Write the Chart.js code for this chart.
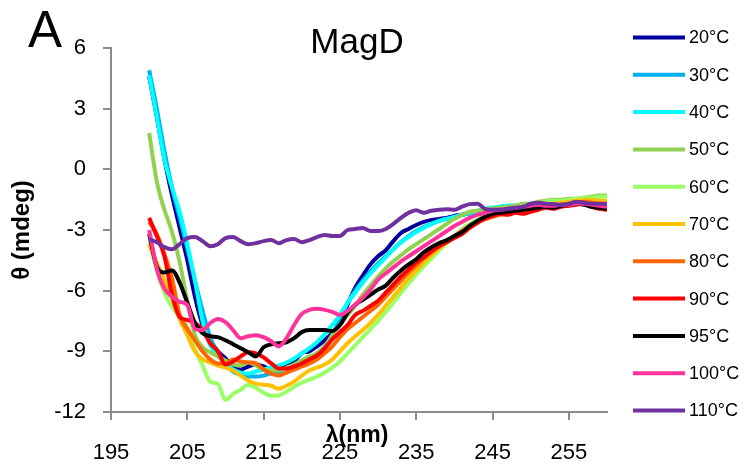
<!DOCTYPE html>
<html>
<head>
<meta charset="utf-8">
<script src="https://cdn.jsdelivr.net/npm/chart.js@4.4.1/dist/chart.umd.min.js"></script>
<style>
  html, body { margin: 0; padding: 0; background: #fff; }
  #wrap { width: 751px; height: 471px; }
</style>
</head>
<body>
<div id="wrap"><canvas id="cdChart" width="751" height="471"></canvas></div>
<script>
/* CD spectra of MagD at different temperatures */
const wavelengths = [
	200, 201, 202, 203, 204, 205, 206, 207, 208, 209,
	210, 211, 212, 213, 214, 215, 216, 217, 218, 219,
	220, 221, 222, 223, 224, 225, 226, 227, 228, 229,
	230, 231, 232, 233, 234, 235, 236, 237, 238, 239,
	240, 241, 242, 243, 244, 245, 246, 247, 248, 249,
	250, 251, 252, 253, 254, 255, 256, 257, 258, 259, 260
];
const temps = ['20°C', '30°C', '40°C', '50°C', '60°C', '70°C', '80°C', '90°C', '95°C', '100°C', '110°C'];
const colors = ['#00009c', '#00b0f0', '#00ffff', '#92d050', '#99ff66', '#ffc000', '#ff6600', '#ff0000', '#000000', '#ff3399', '#7030a0'];

const t20 = [
	4.6, 2.6, 0.5, -1.3, -2.9, -4.5, -6.3, -7.7, -8.45, -9.0,
	-9.35, -9.8, -9.9, -9.75, -9.65, -9.75, -9.9, -9.85, -9.7, -9.5,
	-9.1, -9.0, -8.75, -8.45, -8.1, -7.6, -6.7, -5.85, -5.25, -4.7,
	-4.3, -4.0, -3.55, -3.15, -2.95, -2.75, -2.6, -2.5, -2.45, -2.4,
	-2.3, -2.25, -2.15, -2.1, -2.05, -2.05, -2.0, -2.05, -2.1, -2.0,
	-1.9, -1.85, -1.8, -1.75, -1.75, -1.7, -1.7, -1.65, -1.7, -1.75, -1.75
];
const t30 = [
	4.9, 3.0, 0.9, -0.9, -2.4, -3.9, -5.5, -7.0, -8.3, -9.1,
	-9.6, -10.0, -10.15, -10.25, -10.25, -10.2, -10.1, -10.1, -10.05, -9.85,
	-9.65, -9.4, -9.1, -8.75, -8.2, -7.4, -6.6, -6.0, -5.5, -5.05,
	-4.65, -4.3, -3.95, -3.6, -3.3, -3.05, -2.85, -2.7, -2.55, -2.45,
	-2.35, -2.25, -2.2, -2.1, -2.0, -1.95, -1.85, -1.8, -1.8, -1.85,
	-1.9, -1.85, -1.8, -1.75, -1.7, -1.7, -1.65, -1.6, -1.65, -1.65, -1.7
];
const t40 = [
	4.65, 2.6, 0.5, -0.9, -2.1, -3.7, -5.5, -7.5, -8.7, -9.2,
	-9.6, -9.9, -10.05, -10.1, -10.0, -9.9, -9.8, -9.7, -9.55, -9.35,
	-9.1, -8.85, -8.55, -8.15, -7.7, -7.2, -6.6, -6.1, -5.6, -5.15,
	-4.75, -4.35, -3.95, -3.6, -3.35, -3.1, -2.9, -2.7, -2.55, -2.45,
	-2.35, -2.25, -2.15, -2.05, -1.95, -1.9, -1.85, -1.8, -1.8, -1.8,
	-1.8, -1.75, -1.7, -1.75, -1.7, -1.65, -1.65, -1.6, -1.65, -1.65, -1.7
];
const t50 = [
	1.8, -0.6, -2.0, -3.1, -4.6, -6.5, -8.2, -8.8, -9.05, -9.25,
	-9.45, -9.65, -9.7, -9.55, -9.7, -9.9, -9.95, -9.95, -9.8, -9.65,
	-9.45, -9.25, -9.1, -8.75, -8.2, -7.7, -7.2, -6.75, -6.2, -5.75,
	-5.3, -4.9, -4.55, -4.25, -3.95, -3.7, -3.45, -3.2, -2.95, -2.7,
	-2.45, -2.25, -2.1, -2.05, -2.0, -1.95, -1.9, -1.85, -1.8, -1.7,
	-1.7, -1.6, -1.55, -1.5, -1.5, -1.45, -1.45, -1.4, -1.35, -1.3, -1.3
];
const t60 = [
	-3.6, -5.0, -6.1, -6.8, -7.25, -7.8, -8.9, -9.7, -10.5, -10.6,
	-11.4, -11.1, -10.9, -10.65, -10.8, -11.05, -11.2, -11.18, -11.0, -10.75,
	-10.55, -10.4, -10.25, -10.05, -9.8, -9.5, -9.1, -8.7, -8.3, -7.9,
	-7.5, -7.05, -6.6, -6.1, -5.65, -5.2, -4.8, -4.4, -4.0, -3.65,
	-3.3, -2.95, -2.7, -2.5, -2.35, -2.2, -2.05, -1.95, -1.9, -1.8,
	-1.75, -1.7, -1.6, -1.55, -1.55, -1.5, -1.45, -1.4, -1.4, -1.35, -1.35
];
const t70 = [
	-3.75, -4.6, -5.5, -6.4, -7.4, -8.2, -9.0, -9.4, -9.55, -9.7,
	-9.8, -9.95, -10.2, -10.45, -10.6, -10.65, -10.7, -10.85, -10.7, -10.5,
	-10.2, -9.95, -9.8, -9.65, -9.4, -9.0, -8.6, -8.25, -7.95, -7.6,
	-7.2, -6.75, -6.3, -5.85, -5.4, -5.0, -4.6, -4.25, -3.9, -3.6,
	-3.3, -3.05, -2.8, -2.6, -2.45, -2.3, -2.2, -2.1, -2.0, -1.95,
	-1.85, -1.8, -1.75, -1.7, -1.65, -1.6, -1.55, -1.5, -1.5, -1.55, -1.55
];
const t80 = [
	-2.6, -3.2, -4.2, -5.4, -7.2, -7.9, -8.45, -9.0, -9.4, -9.6,
	-9.6, -9.4, -9.5, -9.55, -9.6, -9.9, -10.1, -10.2, -10.05, -9.9,
	-9.75, -9.6, -9.4, -9.1, -8.75, -8.3, -7.9, -7.6, -7.3, -7.0,
	-6.7, -6.3, -5.9, -5.5, -5.1, -4.75, -4.4, -4.1, -3.8, -3.55,
	-3.3, -3.05, -2.8, -2.6, -2.45, -2.35, -2.25, -2.2, -2.1, -2.0,
	-1.95, -1.9, -1.85, -1.8, -1.75, -1.7, -1.65, -1.6, -1.65, -1.7, -1.75
];
const t90 = [
	-2.4, -3.3, -4.3, -6.2, -7.3, -7.45, -7.6, -7.95, -8.6, -9.0,
	-9.65, -9.5, -9.25, -9.05, -9.1, -9.3, -9.6, -9.85, -9.85, -9.75,
	-9.6, -9.4, -9.2, -8.85, -8.4, -8.05, -7.7, -7.2, -7.0, -6.75,
	-6.5, -6.1, -5.7, -5.3, -4.95, -4.6, -4.35, -4.05, -3.8, -3.6,
	-3.4, -3.2, -2.9, -2.65, -2.45, -2.3, -2.2, -2.25, -2.15, -2.2,
	-2.1, -2.0, -1.9, -1.95, -1.85, -1.8, -1.75, -1.7, -1.85, -1.95, -2.0
];
const t95 = [
	-3.2, -4.8, -5.1, -5.0, -5.6, -6.6, -7.6, -8.1, -8.25, -8.3,
	-8.45, -8.65, -8.85, -9.05, -9.25, -8.8, -8.65, -8.6, -8.55, -8.35,
	-8.05, -7.95, -7.95, -7.95, -8.0, -7.7, -7.1, -6.7, -6.45, -6.2,
	-5.95, -5.75, -5.35, -5.0, -4.7, -4.45, -4.1, -3.85, -3.65, -3.5,
	-3.3, -3.1, -2.8, -2.55, -2.35, -2.2, -2.15, -2.1, -2.05, -2.0,
	-1.95, -1.9, -1.85, -1.9, -1.8, -1.75, -1.7, -1.75, -1.85, -1.9, -1.95
];
const t100 = [
	-3.0, -4.9, -5.9, -6.3, -6.55, -6.7, -7.9, -7.95, -7.6, -7.4,
	-7.55, -7.95, -8.35, -8.25, -8.2, -8.3, -8.5, -8.75, -8.35, -7.7,
	-7.15, -6.95, -6.9, -6.95, -7.05, -7.2, -7.0, -6.7, -6.35, -5.95,
	-5.45, -5.15, -4.85, -4.55, -4.3, -4.05, -3.8, -3.55, -3.3, -3.05,
	-2.8, -2.6, -2.4, -2.25, -2.15, -2.05, -2.0, -1.95, -1.9, -1.85,
	-1.8, -1.75, -1.8, -1.8, -1.75, -1.75, -1.7, -1.7, -1.75, -1.8, -1.85
];
const t110 = [
	-3.45, -3.6, -3.85, -3.95, -3.7, -3.4, -3.35, -3.55, -3.8, -3.7,
	-3.4, -3.35, -3.55, -3.7, -3.65, -3.55, -3.5, -3.65, -3.5, -3.45,
	-3.6, -3.5, -3.35, -3.25, -3.3, -3.3, -3.0, -2.95, -2.9, -3.05,
	-3.05, -2.95, -2.7, -2.4, -2.15, -2.02, -2.15, -2.05, -2.0, -1.98,
	-2.0, -1.85, -1.72, -1.7, -1.95, -2.0, -2.0, -1.95, -1.9, -1.85,
	-1.7, -1.65, -1.7, -1.72, -1.75, -1.7, -1.6, -1.65, -1.7, -1.7, -1.7
];
const seriesValues = [t20, t30, t40, t50, t60, t70, t80, t90, t95, t100, t110];

const xTicks = [195, 205, 215, 225, 235, 245, 255];
const xMin = 195, xMax = 260;
const yMin = -12, yMax = 6, yStep = 3;

const FONT = '"Liberation Sans", Arial, sans-serif';
const axisGray = '#8c8c8c';

// later series are drawn on top, like the original
const datasets = seriesValues.map((vals, i) => ({
	label: temps[i],
	data: wavelengths.map((w, j) => ({ x: w, y: vals[j] })),
	borderColor: colors[i],
	backgroundColor: colors[i],
	borderWidth: 4,
	pointRadius: 0,
	cubicInterpolationMode: 'monotone',
	fill: false,
	order: seriesValues.length - i
}));

// titles, panel letter and legend drawn on top
const decorations = {
	id: 'decorations',
	afterDraw(chart) {
		const ctx = chart.ctx;
		const area = chart.chartArea;
		ctx.save();
		ctx.fillStyle = '#000';

		ctx.font = '51px ' + FONT;
		ctx.textAlign = 'left';
		ctx.textBaseline = 'alphabetic';
		ctx.fillText('A', 28, 47);

		ctx.font = '35px ' + FONT;
		ctx.textAlign = 'center';
		ctx.fillText('MagD', 357, 53);

		ctx.font = 'bold 23px ' + FONT;
		ctx.textBaseline = 'middle';
		ctx.fillText('λ(nm)', 357, 436);

		ctx.save();
		ctx.font = 'bold 24px ' + FONT;
		ctx.translate(22, (area.top + area.bottom) / 2);
		ctx.rotate(-Math.PI / 2);
		ctx.fillText('θ (mdeg)', 0, 0);
		ctx.restore();

		// legend
		ctx.font = '18px ' + FONT;
		ctx.textAlign = 'left';
		chart.data.datasets.forEach((ds, i) => {
			const y = 37.5 + i * 37.3;
			ctx.strokeStyle = ds.borderColor;
			ctx.lineWidth = 4;
			ctx.beginPath();
			ctx.moveTo(633, y);
			ctx.lineTo(685, y);
			ctx.stroke();
			ctx.fillStyle = '#000';
			ctx.fillText(ds.label, 689, y + 1);
		});
		ctx.restore();
	}
};

const ctx = document.getElementById('cdChart').getContext('2d');
new Chart(ctx, {
	type: 'line',
	data: { datasets: datasets },
	options: {
		responsive: false,
		animation: false,
		layout: { padding: { top: 48, right: 144, left: 0, bottom: 0 } },
		plugins: { legend: { display: false }, tooltip: { enabled: false }, title: { display: false } },
		scales: {
			x: {
				type: 'linear',
				min: xMin,
				max: xMax,
				afterBuildTicks: s => { s.ticks = xTicks.map(v => ({ value: v })); },
				afterFit: s => { s.height = 59; },
				border: { color: axisGray, width: 2 },
				grid: { drawOnChartArea: false, drawTicks: true, tickLength: 8, color: axisGray, lineWidth: 2 },
				ticks: {
					color: '#000',
					font: { family: FONT, size: 22 },
					padding: 20,
					maxRotation: 0,
					autoSkip: false,
					callback: v => String(v)
				}
			},
			y: {
				min: yMin,
				max: yMax,
				afterFit: s => { s.width = 111; },
				border: { color: axisGray, width: 2 },
				grid: { drawOnChartArea: false, drawTicks: true, tickLength: 8, color: axisGray, lineWidth: 2 },
				ticks: {
					stepSize: yStep,
					color: '#000',
					font: { family: FONT, size: 22 },
					padding: 17
				}
			}
		}
	},
	plugins: [decorations]
});
</script>
</body>
</html>
